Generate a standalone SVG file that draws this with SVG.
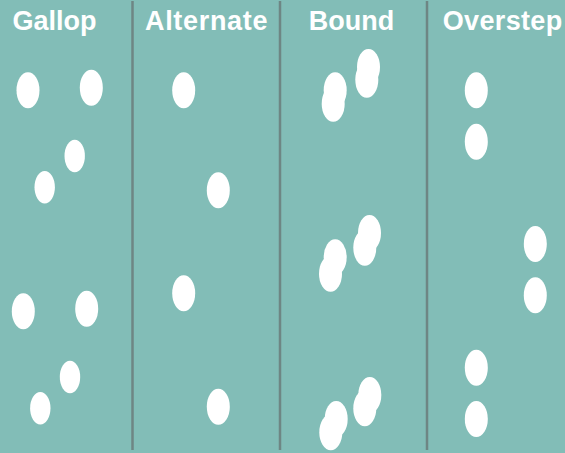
<svg xmlns="http://www.w3.org/2000/svg" width="565" height="453" viewBox="0 0 565 453">
<style>
.t{font-family:"Liberation Sans",Arial,sans-serif;font-weight:bold;font-size:27px;fill:#ffffff}
.f{fill:#ffffff}
.d{stroke:#6e8684;stroke-width:2.5}
</style>
<rect width="565" height="453" fill="#82bdb7"/>
<g id="dividers">
<line class="d" x1="132.5" y1="1" x2="132.5" y2="450"/>
<line class="d" x1="280" y1="1" x2="280" y2="450"/>
<line class="d" x1="427" y1="1" x2="427" y2="450"/>
</g>
<g id="gallop">
<text class="t" x="12.5" y="29.5">Gallop</text>
<ellipse class="f" cx="28" cy="90.3" rx="11.5" ry="18"/>
<ellipse class="f" cx="91.3" cy="87.7" rx="11.5" ry="18"/>
<ellipse class="f" cx="74.7" cy="156" rx="10.2" ry="16.2"/>
<ellipse class="f" cx="44.7" cy="187.3" rx="10.2" ry="16.2"/>
<ellipse class="f" cx="23.3" cy="311.3" rx="11.5" ry="18"/>
<ellipse class="f" cx="86.7" cy="308.7" rx="11.5" ry="18"/>
<ellipse class="f" cx="70" cy="377" rx="10.2" ry="16.2"/>
<ellipse class="f" cx="40.3" cy="408.3" rx="10.2" ry="16.2"/>
</g>
<g id="alternate">
<text class="t" x="145" y="29.5" textLength="122.5">Alternate</text>
<ellipse class="f" cx="183.7" cy="90.3" rx="11.5" ry="18"/>
<ellipse class="f" cx="218.3" cy="190.3" rx="11.5" ry="18"/>
<ellipse class="f" cx="183.7" cy="293.3" rx="11.5" ry="18"/>
<ellipse class="f" cx="218.3" cy="406.7" rx="11.5" ry="18"/>
</g>
<g id="bound">
<text class="t" x="308.7" y="29.5">Bound</text>
<ellipse class="f" cx="335.2" cy="90.3" rx="11.5" ry="18"/>
<ellipse class="f" cx="333.2" cy="103.7" rx="11.5" ry="18"/>
<ellipse class="f" cx="368.5" cy="67" rx="11.5" ry="18"/>
<ellipse class="f" cx="366.8" cy="79.7" rx="11.5" ry="18"/>
<ellipse class="f" cx="335.2" cy="257.3" rx="11.5" ry="18"/>
<ellipse class="f" cx="330.5" cy="273.7" rx="11.5" ry="18"/>
<ellipse class="f" cx="369.5" cy="233" rx="11.5" ry="18"/>
<ellipse class="f" cx="364.8" cy="247.7" rx="11.5" ry="18"/>
<ellipse class="f" cx="336.2" cy="419" rx="11.5" ry="18"/>
<ellipse class="f" cx="330.8" cy="432.3" rx="11.5" ry="18"/>
<ellipse class="f" cx="369.8" cy="395" rx="11.5" ry="18"/>
<ellipse class="f" cx="364.8" cy="408.3" rx="11.5" ry="18"/>
</g>
<g id="overstep">
<text class="t" x="442.7" y="29.5" textLength="119.5">Overstep</text>
<ellipse class="f" cx="476.3" cy="90.3" rx="11.5" ry="18"/>
<ellipse class="f" cx="476.3" cy="141.7" rx="11.5" ry="18"/>
<ellipse class="f" cx="535.3" cy="244" rx="11.5" ry="18"/>
<ellipse class="f" cx="535.3" cy="295.3" rx="11.5" ry="18"/>
<ellipse class="f" cx="476.3" cy="367.7" rx="11.5" ry="18"/>
<ellipse class="f" cx="476.3" cy="419" rx="11.5" ry="18"/>
</g>
</svg>
